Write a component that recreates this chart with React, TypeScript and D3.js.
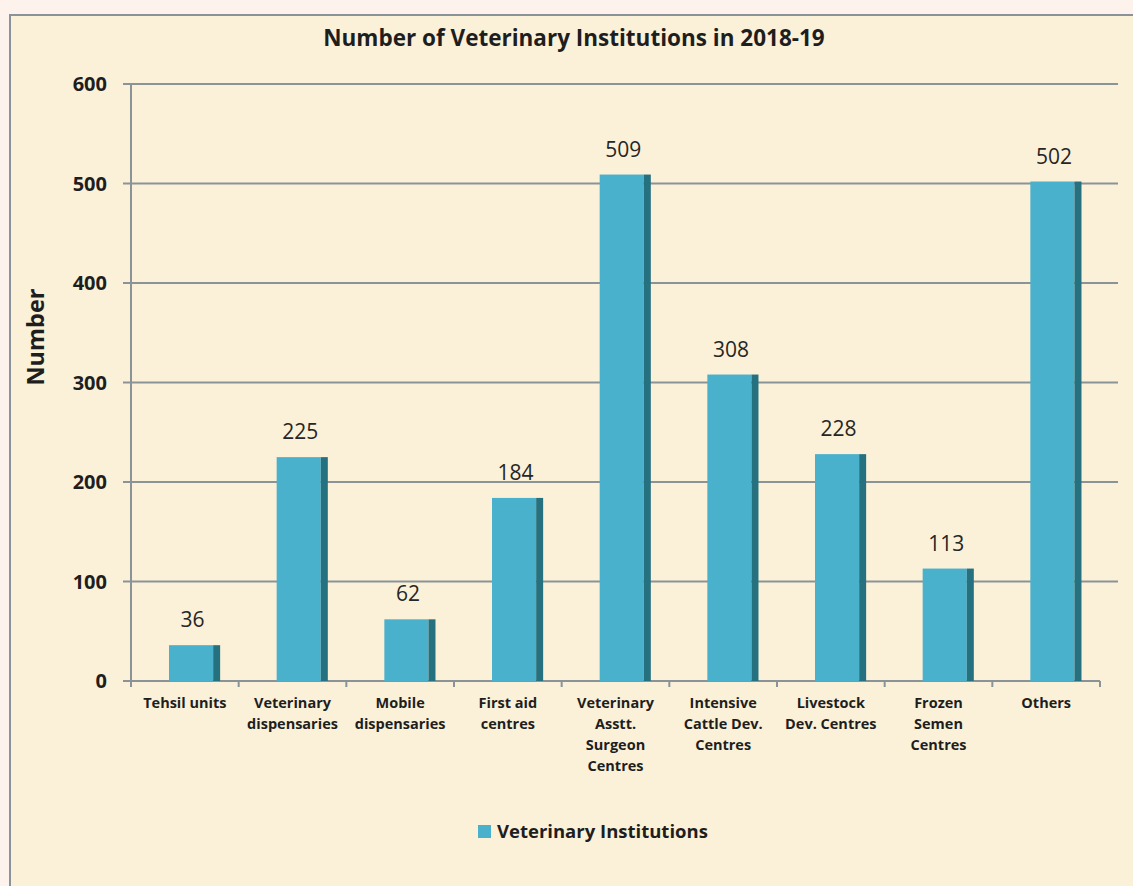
import { useEffect, useRef } from 'react';
import * as d3 from 'd3';

// Chart data
const categories: string[][] = [
  ['Tehsil units'],
  ['Veterinary', 'dispensaries'],
  ['Mobile', 'dispensaries'],
  ['First aid', 'centres'],
  ['Veterinary', 'Asstt.', 'Surgeon', 'Centres'],
  ['Intensive', 'Cattle Dev.', 'Centres'],
  ['Livestock', 'Dev. Centres'],
  ['Frozen', 'Semen', 'Centres'],
  ['Others'],
];
const values = [36, 225, 62, 184, 509, 308, 228, 113, 502];
const yTicks = [0, 100, 200, 300, 400, 500, 600];
const seriesName = 'Veterinary Institutions';
const title = 'Number of Veterinary Institutions in 2018-19';
const yTitle = 'Number';

const FONT = '"Open Sans", Lato, sans-serif';
const BAR = '#4AB1CD';
const BAR_SIDE = '#26717F';
const GRID = '#8A9398';

export default function App() {
  const svgRef = useRef<SVGSVGElement>(null);

  useEffect(() => {
    document.body.style.margin = '0';
    if (!svgRef.current) return;
    const svg = d3.select(svgRef.current);
    svg.selectAll('*').remove();

    const width = 1133;
    const height = 886;
    const left = 131;
    const right = 1100;
    const top = 84;
    const bottom = 681;
    const depth = 18;

    svg.attr('width', width).attr('height', height);

    // background
    svg.append('rect').attr('width', width).attr('height', height).attr('fill', '#FDF2EC');
    svg
      .append('rect')
      .attr('x', 10)
      .attr('y', 15)
      .attr('width', width + 10)
      .attr('height', height)
      .attr('fill', '#FBF1D8')
      .attr('stroke', GRID)
      .attr('stroke-width', 2);

    const x = d3
      .scaleBand<number>()
      .domain(values.map((_, i) => i))
      .range([left, right]);
    const y = d3.scaleLinear().domain([0, 600]).range([bottom, top]);

    const g = svg.append('g');

    // gridlines
    g.selectAll('.grid')
      .data(yTicks.filter((t) => t > 0))
      .enter()
      .append('line')
      .attr('x1', left)
      .attr('x2', right + depth)
      .attr('y1', (d) => y(d))
      .attr('y2', (d) => y(d))
      .attr('stroke', GRID)
      .attr('stroke-width', 2);

    // y axis
    g.append('line')
      .attr('x1', left)
      .attr('x2', left)
      .attr('y1', top)
      .attr('y2', bottom)
      .attr('stroke', GRID)
      .attr('stroke-width', 2);
    g.selectAll('.ytick')
      .data(yTicks)
      .enter()
      .append('line')
      .attr('x1', left - 8)
      .attr('x2', left)
      .attr('y1', (d) => y(d))
      .attr('y2', (d) => y(d))
      .attr('stroke', GRID)
      .attr('stroke-width', 2);
    g.selectAll('.ylab')
      .data(yTicks)
      .enter()
      .append('text')
      .attr('x', 107)
      .attr('y', (d) => y(d))
      .attr('dy', '0.35em')
      .attr('text-anchor', 'end')
      .attr('font-family', FONT)
      .attr('font-weight', 'bold')
      .attr('font-size', 20)
      .attr('fill', '#1E1E1E')
      .text((d) => d);

    // x axis
    g.append('line')
      .attr('x1', left - 8)
      .attr('x2', right)
      .attr('y1', bottom)
      .attr('y2', bottom)
      .attr('stroke', GRID)
      .attr('stroke-width', 2);
    g.selectAll('.xtick')
      .data(d3.range(values.length + 1))
      .enter()
      .append('line')
      .attr('x1', (d) => left + d * x.bandwidth())
      .attr('x2', (d) => left + d * x.bandwidth())
      .attr('y1', bottom)
      .attr('y2', bottom + 6)
      .attr('stroke', GRID)
      .attr('stroke-width', 2);

    // bars
    const bw = x.bandwidth();
    const frontW = bw * 0.41;
    const sideW = 7;
    values.forEach((v, i) => {
      const x0 = (x(i) ?? 0) + bw * 0.353;
      g.append('rect')
        .attr('x', x0)
        .attr('y', y(v))
        .attr('width', frontW)
        .attr('height', bottom - y(v))
        .attr('fill', BAR);
      g.append('rect')
        .attr('x', x0 + frontW)
        .attr('y', y(v))
        .attr('width', sideW)
        .attr('height', bottom - y(v))
        .attr('fill', BAR_SIDE);
      g.append('text')
        .attr('x', x0 + (frontW + sideW) / 2 - 2)
        .attr('y', y(v) - 18)
        .attr('text-anchor', 'middle')
        .attr('font-family', FONT)
        .attr('font-size', 21)
        .attr('fill', '#262626')
        .text(v);
    });

    // x labels
    categories.forEach((lines, i) => {
      const cx = (x(i) ?? 0) + bw / 2;
      const t = g
        .append('text')
        .attr('text-anchor', 'middle')
        .attr('font-family', FONT)
        .attr('font-weight', 'bold')
        .attr('font-size', 14.5)
        .attr('fill', '#1E1E1E');
      lines.forEach((ln, j) => {
        t.append('tspan')
          .attr('x', cx)
          .attr('y', 708 + j * 21)
          .text(ln);
      });
    });

    // title
    svg
      .append('text')
      .attr('x', 574)
      .attr('y', 46)
      .attr('text-anchor', 'middle')
      .attr('font-family', FONT)
      .attr('font-weight', 'bold')
      .attr('font-size', 22.5)
      .attr('fill', '#1E1E1E')
      .text(title);

    // y title
    svg
      .append('text')
      .attr('transform', `translate(44, 337) rotate(-90)`)
      .attr('text-anchor', 'middle')
      .attr('font-family', FONT)
      .attr('font-weight', 'bold')
      .attr('font-size', 23.5)
      .attr('fill', '#1E1E1E')
      .text(yTitle);

    // legend
    svg
      .append('rect')
      .attr('x', 478)
      .attr('y', 825)
      .attr('width', 13)
      .attr('height', 13)
      .attr('fill', BAR);
    svg
      .append('text')
      .attr('x', 497)
      .attr('y', 838)
      .attr('font-family', FONT)
      .attr('font-weight', 'bold')
      .attr('font-size', 18.5)
      .attr('fill', '#1E1E1E')
      .text(seriesName);
  }, []);

  return <svg ref={svgRef} style={{ display: 'block' }} />;
}
